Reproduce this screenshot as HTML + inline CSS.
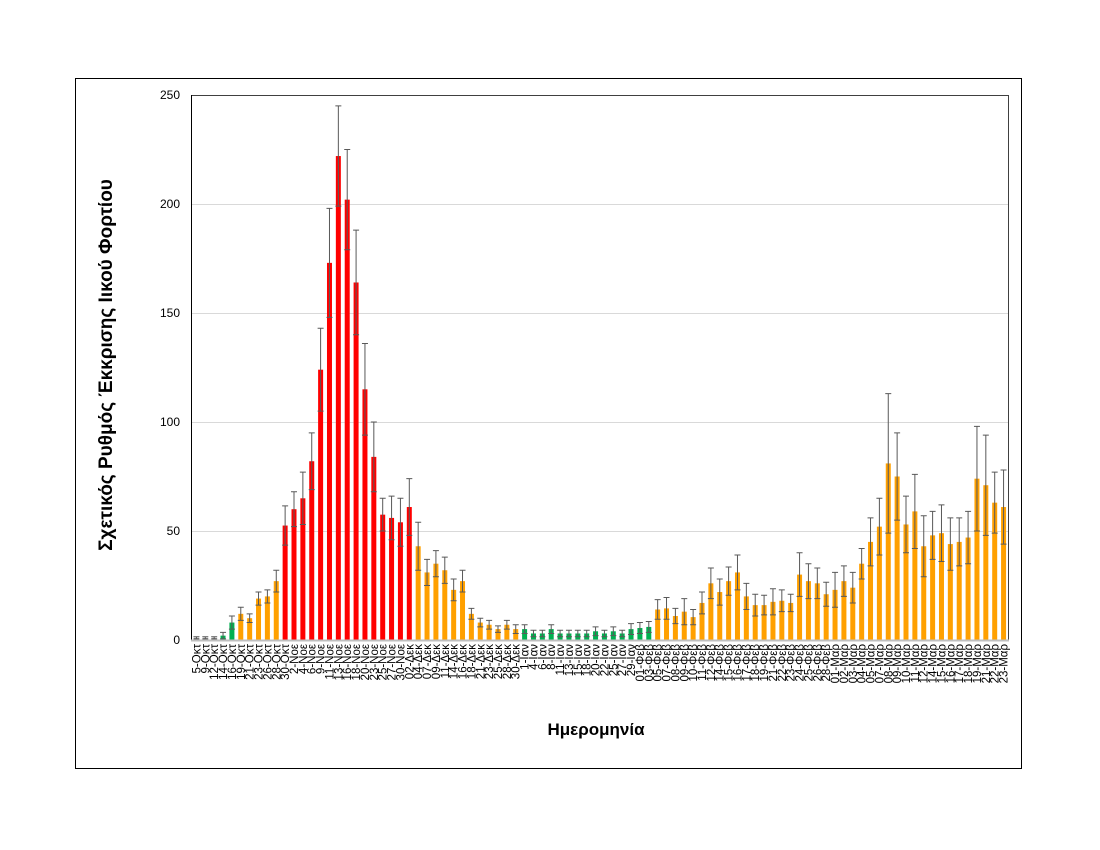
<!DOCTYPE html>
<html><head><meta charset="utf-8"><style>
html,body{margin:0;padding:0;background:#fff;}
svg{display:block;font-family:"Liberation Sans","DejaVu Sans",sans-serif;}
</style></head><body>
<svg id="c" width="1100" height="850" xmlns="http://www.w3.org/2000/svg">
<rect x="75.5" y="78.5" width="946" height="690" fill="none" stroke="#000" stroke-width="1"/>
<g stroke="#d9d9d9" stroke-width="1">
<line x1="192" x2="1008" y1="531.5" y2="531.5"/>
<line x1="192" x2="1008" y1="422.5" y2="422.5"/>
<line x1="192" x2="1008" y1="313.5" y2="313.5"/>
<line x1="192" x2="1008" y1="204.5" y2="204.5"/>
</g>
<line x1="191.5" x2="1008" y1="95.5" y2="95.5" stroke="#404040"/>
<line x1="1008.5" x2="1008.5" y1="95" y2="640" stroke="#404040"/>
<g font-size="12" fill="#000" text-anchor="end">
<text x="180" y="644">0</text>
<text x="180" y="535">50</text>
<text x="180" y="426">100</text>
<text x="180" y="317">150</text>
<text x="180" y="208">200</text>
<text x="180" y="99">250</text>
</g>
<text transform="translate(112,365) rotate(-90)" text-anchor="middle" font-size="19" font-weight="bold">Σχετικός Ρυθμός Έκκρισης Ιικού Φορτίου</text>
<text x="596" y="735" text-anchor="middle" font-size="17" font-weight="bold">Ημερομηνία</text>
<g id="bars"></g>
<line x1="191.5" x2="191.5" y1="95" y2="641" stroke="#000"/>
<line x1="191" x2="1009" y1="640.5" y2="640.5" stroke="#bfbfbf" stroke-width="2"/>
<g id="labs" font-size="11.5"></g>
</svg>
<script>
var L=["5-Οκτ","9-Οκτ","12-Οκτ","14-Οκτ","16-Οκτ","19-Οκτ","21-Οκτ","23-Οκτ","26-Οκτ","28-Οκτ","30-Οκτ",
"2-Νοε","4-Νοε","6-Νοε","9-Νοε","11-Νοε","13-Νοε","16-Νοε","18-Νοε","20-Νοε","23-Νοε","25-Νοε","27-Νοε","30-Νοε",
"02-Δεκ","04-Δεκ","07-Δεκ","09-Δεκ","11-Δεκ","14-Δεκ","16-Δεκ","18-Δεκ","21-Δεκ","23-Δεκ","25-Δεκ","28-Δεκ","30-Δεκ",
"1-Ιαν","4-Ιαν","6-Ιαν","8-Ιαν","11-Ιαν","13-Ιαν","15-Ιαν","18-Ιαν","20-Ιαν","22-Ιαν","25-Ιαν","27-Ιαν","29-Ιαν",
"01-Φεβ","03-Φεβ","05-Φεβ","07-Φεβ","08-Φεβ","09-Φεβ","10-Φεβ","11-Φεβ","12-Φεβ","14-Φεβ","15-Φεβ","16-Φεβ","17-Φεβ","18-Φεβ","19-Φεβ","21-Φεβ","22-Φεβ","23-Φεβ","24-Φεβ","25-Φεβ","26-Φεβ","28-Φεβ",
"01-Μαρ","02-Μαρ","03-Μαρ","04-Μαρ","05-Μαρ","07-Μαρ","08-Μαρ","09-Μαρ","10-Μαρ","11-Μαρ","12-Μαρ","14-Μαρ","15-Μαρ","16-Μαρ","17-Μαρ","18-Μαρ","19-Μαρ","21-Μαρ","22-Μαρ","23-Μαρ"];
var V=[1,1,1,2,8,12,10,19,20,27,52.5,
60,65,82,124,173,222,202,164,115,84,57.5,56,54,
61,43,31,35,32,23,27,12,8,7,5,7,5,
5,3,3,5,3,3,3,3,4,3,4,3,5,
5.5,6,14,14.5,11,13,10.5,17,26,22,27,31,20,16,16,17.5,18,17,30,27,26,21,
23,27,24,35,45,52,81,75,53,59,43,48,49,44,45,47,74,71,63,61];
var E=[0.5,0.5,0.5,1.5,3,3,2,3,3,5,9,
8,12,13,19,25,23,23,24,21,16,7.5,10,11,
13,11,6,6,6,5,5,2.5,2,2,1.5,2,2,
2,1.5,1.5,2,1.5,1.5,1.5,1.5,2,1.5,2,1.5,2.5,
2.5,2.5,4.5,5,3.5,6,3.5,5,7,6,6.5,8,6,5,4.5,6,5,4,10,8,7,5.5,
8,7,7,7,11,13,32,20,13,17,14,11,13,12,11,12,24,23,14,17];
function col(i){var l=L[i];if(i<3)return"#a6a6a6";if(i<5)return"#00b050";if(i>=10&&i<=24)return"#ff0000";if(l.indexOf("Ιαν")>0||i==50||i==51)return"#00b050";return"#ffa000";}
var ns="http://www.w3.org/2000/svg",b=document.getElementById("bars"),g=document.getElementById("labs");
var w=816/92;
for(var i=0;i<92;i++){
 var cx=192+w*(i+0.5),h=V[i]*2.18,y=640-h;
 var r=document.createElementNS(ns,"rect");r.setAttribute("x",cx-2.5);r.setAttribute("y",y);r.setAttribute("width",5);r.setAttribute("height",h);r.setAttribute("fill",col(i));b.appendChild(r);
 var e=E[i]*2.18,t=y-e,bt=Math.min(640,y+e);
 var p=document.createElementNS(ns,"path");p.setAttribute("d","M"+cx+" "+t+"V"+bt+"M"+(cx-3)+" "+t+"H"+(cx+3)+"M"+(cx-3)+" "+bt+"H"+(cx+3));p.setAttribute("stroke","#595959");p.setAttribute("stroke-width","1");p.setAttribute("fill","none");b.appendChild(p);
 var tx=document.createElementNS(ns,"text");tx.setAttribute("transform","translate("+(cx+4)+",644) rotate(-90)");tx.setAttribute("text-anchor","end");tx.textContent=L[i];g.appendChild(tx);
}
</script>
</body></html>
